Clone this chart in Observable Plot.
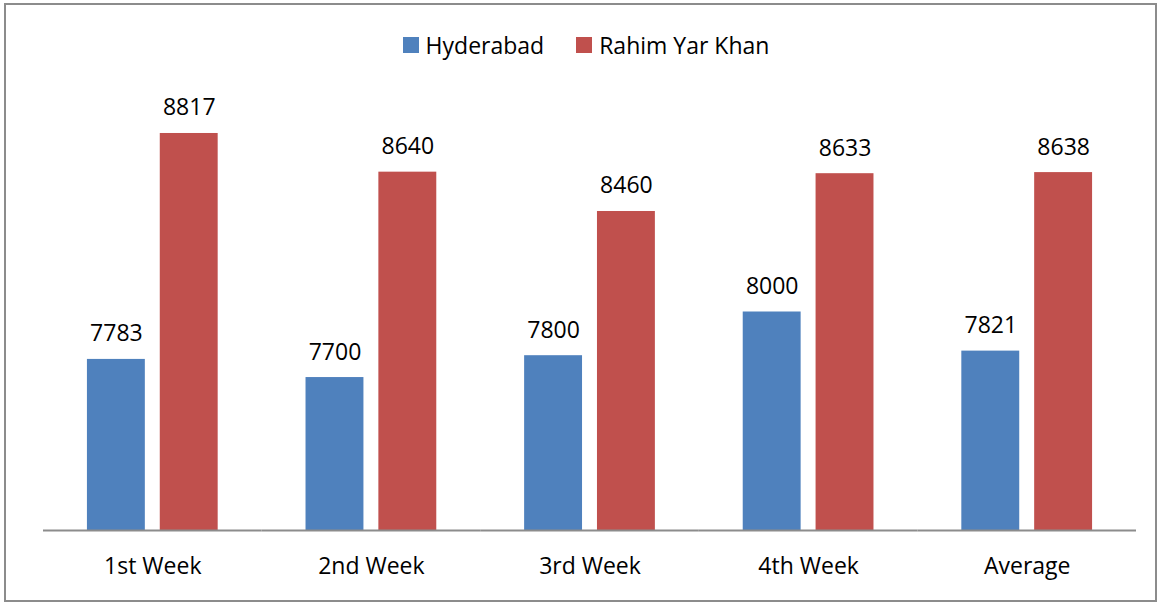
<!DOCTYPE html>
<html>
<head>
<meta charset="utf-8">
<script src="https://cdn.jsdelivr.net/npm/d3@7"></script>
<script src="https://cdn.jsdelivr.net/npm/@observablehq/plot@0.6"></script>
<style>
  html, body { margin: 0; padding: 0; background: #fff; }
  #wrap { position: relative; width: 1158px; height: 603px; overflow: hidden; font-family: "Open Sans", sans-serif; }
  #frame { position: absolute; left: 4px; top: 3px; width: 1149px; height: 595px; border: 2px solid #8c8c8c; box-sizing: content-box; }
  #legend { position: absolute; left: 0; top: 31px; width: 1158px; height: 28px; display: flex; justify-content: center; align-items: center; gap: 32px; font-size: 23px; color: #000; padding-left: 14px; box-sizing: border-box; }
  .item { display: flex; align-items: center; gap: 7px; }
  .sw { width: 16px; height: 16px; display: inline-block; }
  #chart { position: absolute; left: 0; top: 70px; }
</style>
</head>
<body>
<div id="wrap">
  <div id="frame"></div>
  <div id="legend"></div>
  <div id="chart"></div>
</div>
<script>
const categories = ["1st Week", "2nd Week", "3rd Week", "4th Week", "Average"];
const series = ["Hyderabad", "Rahim Yar Khan"];
const hyderabad = [7783, 7700, 7800, 8000, 7821];
const rahimYarKhan = [8817, 8640, 8460, 8633, 8638];
const colors = ["#4F81BD", "#C0504D"];
const yDomain = [7000, 9000];

const data = categories.flatMap((c, i) => [
  {category: c, series: series[0], value: hyderabad[i]},
  {category: c, series: series[1], value: rahimYarKhan[i]}
]);

const legend = document.getElementById("legend");
series.forEach((s, i) => {
  const it = document.createElement("div");
  it.className = "item";
  const sw = document.createElement("span");
  sw.className = "sw";
  sw.style.background = colors[i];
  const t = document.createElement("span");
  t.textContent = s;
  it.appendChild(sw);
  it.appendChild(t);
  legend.appendChild(it);
});

const chart = Plot.plot({
  width: 1158,
  height: 533,
  marginLeft: 43,
  marginRight: 22,
  marginTop: 23,
  marginBottom: 73,
  style: {fontFamily: "Open Sans, sans-serif", fontSize: "23px", color: "#000", background: "transparent"},
  fx: {domain: categories, padding: 0, round: false, label: null},
  x: {domain: series, paddingInner: 0.205, paddingOuter: 0.603, round: false, axis: null},
  y: {domain: yDomain, axis: null},
  color: {domain: series, range: colors},
  marks: [
    Plot.barY(data, {fx: "category", x: "series", y1: yDomain[0], y2: "value", fill: "series"}),
    Plot.text(data, {fx: "category", x: "series", y: "value", text: d => String(d.value), lineAnchor: "bottom", dy: -18, fontSize: 23, fill: "#000"}),
    Plot.ruleY([yDomain[0]], {stroke: "#8c8c8c", strokeWidth: 2}),
    Plot.axisFx({anchor: "bottom", tickSize: 0, tickPadding: 27, fontSize: 23, label: null})
  ]
});
document.getElementById("chart").appendChild(chart);
</script>
</body>
</html>
